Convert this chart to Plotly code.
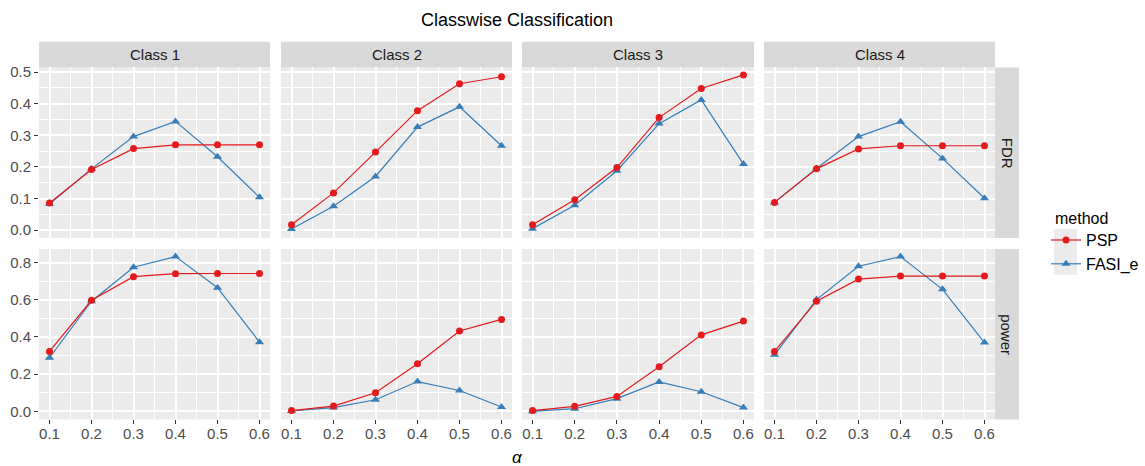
import plotly.graph_objects as go

W, H = 1145, 466

alpha = [0.1, 0.2, 0.3, 0.4, 0.5, 0.6]
classes = ["Class 1", "Class 2", "Class 3", "Class 4"]
metrics = ["FDR", "power"]
methods = ["PSP", "FASI_e"]

# FDR values
fdr_psp_c1 = [0.086, 0.192, 0.258, 0.270, 0.270, 0.270]
fdr_psp_c2 = [0.017, 0.118, 0.247, 0.378, 0.463, 0.485]
fdr_psp_c3 = [0.017, 0.096, 0.198, 0.356, 0.448, 0.491]
fdr_psp_c4 = [0.088, 0.194, 0.257, 0.267, 0.267, 0.267]
fdr_fasi_c1 = [0.083, 0.194, 0.296, 0.344, 0.232, 0.104]
fdr_fasi_c2 = [0.004, 0.076, 0.170, 0.326, 0.390, 0.267]
fdr_fasi_c3 = [0.005, 0.079, 0.188, 0.337, 0.412, 0.209]
fdr_fasi_c4 = [0.088, 0.195, 0.296, 0.343, 0.227, 0.101]

# power values
pow_psp_c1 = [0.322, 0.597, 0.724, 0.740, 0.741, 0.741]
pow_psp_c2 = [0.004, 0.028, 0.100, 0.256, 0.432, 0.494]
pow_psp_c3 = [0.004, 0.027, 0.080, 0.240, 0.411, 0.485]
pow_psp_c4 = [0.322, 0.592, 0.711, 0.727, 0.727, 0.727]
pow_fasi_c1 = [0.288, 0.592, 0.775, 0.832, 0.665, 0.372]
pow_fasi_c2 = [0.002, 0.020, 0.062, 0.160, 0.112, 0.023]
pow_fasi_c3 = [0.000, 0.014, 0.068, 0.158, 0.105, 0.020]
pow_fasi_c4 = [0.304, 0.601, 0.780, 0.832, 0.656, 0.370]

x_ticks = [0.1, 0.2, 0.3, 0.4, 0.5, 0.6]
fdr_ticks = [0.0, 0.1, 0.2, 0.3, 0.4, 0.5]
pow_ticks = [0.0, 0.2, 0.4, 0.6, 0.8]

psp = {("FDR", 0): fdr_psp_c1, ("FDR", 1): fdr_psp_c2, ("FDR", 2): fdr_psp_c3, ("FDR", 3): fdr_psp_c4,
       ("power", 0): pow_psp_c1, ("power", 1): pow_psp_c2, ("power", 2): pow_psp_c3, ("power", 3): pow_psp_c4}
fasi = {("FDR", 0): fdr_fasi_c1, ("FDR", 1): fdr_fasi_c2, ("FDR", 2): fdr_fasi_c3, ("FDR", 3): fdr_fasi_c4,
        ("power", 0): pow_fasi_c1, ("power", 1): pow_fasi_c2, ("power", 2): pow_fasi_c3, ("power", 3): pow_fasi_c4}

RED = "#E41A1C"
BLUE = "#377EB8"
FONT = "Liberation Sans, Arial, Helvetica, sans-serif"

col_px = [(39, 270), (281, 512), (522, 754), (764, 995)]
row_px = [(64, 236), (247, 419)]
strip_top = 38
rstrip = (995, 1019)


def px_x(p):
    return p / W


def px_y(p):
    return 1 - p / H


fig = go.Figure()
layout = {}

y_ranges = {"FDR": [-0.0245, 0.5145], "power": [-0.0435, 0.8735]}
y_ticks = {"FDR": fdr_ticks, "power": pow_ticks}
y_minor = {"FDR": 0.05, "power": 0.1}

idx = 0
for r, metric in enumerate(metrics):
    for c in range(4):
        idx += 1
        xa = "x" if idx == 1 else f"x{idx}"
        ya = "y" if idx == 1 else f"y{idx}"
        xkey = "xaxis" if idx == 1 else f"xaxis{idx}"
        ykey = "yaxis" if idx == 1 else f"yaxis{idx}"
        show_leg = (idx == 1)
        fig.add_trace(go.Scatter(
            x=alpha, y=fasi[(metric, c)], mode="lines+markers", name="FASI_e",
            line=dict(color=BLUE, width=1.2),
            marker=dict(symbol="triangle-up", size=8, color=BLUE),
            xaxis=xa, yaxis=ya, showlegend=show_leg, legendrank=2, legendgroup="FASI_e"))
        fig.add_trace(go.Scatter(
            x=alpha, y=psp[(metric, c)], mode="lines+markers", name="PSP",
            line=dict(color=RED, width=1.2),
            marker=dict(symbol="circle", size=7, color=RED),
            xaxis=xa, yaxis=ya, showlegend=show_leg, legendrank=1, legendgroup="PSP"))
        x0, x1 = col_px[c]
        y0, y1 = row_px[r]
        layout[xkey] = dict(
            domain=[px_x(x0), px_x(x1)], range=[0.075, 0.625], anchor=ya,
            tickvals=x_ticks, ticktext=[f"{v:.1f}" for v in x_ticks],
            showticklabels=(r == 1), ticks="outside" if r == 1 else "",
            ticklen=4, tickwidth=1, tickcolor="#333333", ticklabelstandoff=-3,
            tickfont=dict(family=FONT, size=15, color="#4D4D4D"),
            showgrid=True, gridcolor="white", gridwidth=1.5,
            minor=dict(tickvals=[0.15, 0.25, 0.35, 0.45, 0.55], showgrid=True,
                       gridcolor="white", gridwidth=0.7, ticks=""),
            zeroline=False, showline=False, fixedrange=True)
        yt = y_ticks[metric]
        mv = [round(v + y_minor[metric], 3) for v in yt[:-1]]
        layout[ykey] = dict(
            domain=[px_y(y1), px_y(y0)], range=y_ranges[metric], anchor=xa,
            tickvals=yt, ticktext=[f"{v:.1f}" for v in yt],
            showticklabels=(c == 0), ticks="outside" if c == 0 else "",
            ticklen=4, tickwidth=1, tickcolor="#333333",
            tickfont=dict(family=FONT, size=15, color="#4D4D4D"),
            showgrid=True, gridcolor="white", gridwidth=1.5,
            minor=dict(tickvals=mv, showgrid=True, gridcolor="white", gridwidth=0.7, ticks=""),
            zeroline=False, showline=False, fixedrange=True)

shapes = []
annotations = []
# panel backgrounds
for r in range(2):
    for c in range(4):
        x0, x1 = col_px[c]
        y0, y1 = row_px[r]
        shapes.append(dict(type="rect", xref="paper", yref="paper", layer="below",
                           x0=px_x(x0), x1=px_x(x1), y0=px_y(y1), y1=px_y(y0),
                           fillcolor="#EBEBEB", line=dict(width=0)))
# column strips
for c in range(4):
    x0, x1 = col_px[c]
    shapes.append(dict(type="rect", xref="paper", yref="paper", layer="below",
                       x0=px_x(x0), x1=px_x(x1), y0=px_y(row_px[0][0]), y1=px_y(strip_top),
                       fillcolor="#D9D9D9", line=dict(width=0)))
    annotations.append(dict(text=classes[c], xref="paper", yref="paper",
                            x=px_x((x0 + x1) / 2), y=px_y((strip_top + row_px[0][0]) / 2),
                            showarrow=False, xanchor="center", yanchor="middle",
                            font=dict(family=FONT, size=15, color="#1A1A1A")))
# row strips
for r in range(2):
    y0, y1 = row_px[r]
    shapes.append(dict(type="rect", xref="paper", yref="paper", layer="below",
                       x0=px_x(rstrip[0]), x1=px_x(rstrip[1]), y0=px_y(y1), y1=px_y(y0),
                       fillcolor="#D9D9D9", line=dict(width=0)))
    annotations.append(dict(text=metrics[r], xref="paper", yref="paper", textangle=90,
                            x=px_x((rstrip[0] + rstrip[1]) / 2), y=px_y((y0 + y1) / 2),
                            showarrow=False, xanchor="center", yanchor="middle",
                            font=dict(family=FONT, size=15, color="#1A1A1A")))
# legend key backgrounds
for ky in [(227, 250), (250, 273)]:
    shapes.append(dict(type="rect", xref="paper", yref="paper", layer="below",
                       x0=px_x(1054), x1=px_x(1077), y0=px_y(ky[1]), y1=px_y(ky[0]),
                       fillcolor="#EBEBEB", line=dict(width=0)))

# legend title, plot title and axis title
annotations.append(dict(text="method", xref="paper", yref="paper",
                        x=px_x(1053), y=px_y(216), showarrow=False, xanchor="left", yanchor="middle",
                        font=dict(family=FONT, size=16, color="black")))
annotations.append(dict(text="Classwise Classification", xref="paper", yref="paper",
                        x=px_x(517), y=px_y(16), showarrow=False, xanchor="center", yanchor="middle",
                        font=dict(family=FONT, size=18, color="black")))
annotations.append(dict(text="<i>α</i>", xref="paper", yref="paper",
                        x=px_x(517), y=px_y(457), showarrow=False, xanchor="center", yanchor="middle",
                        font=dict(family=FONT, size=17, color="black")))

fig.update_layout(
    width=W, height=H, margin=dict(l=0, r=0, t=0, b=0),
    paper_bgcolor="white", plot_bgcolor="rgba(0,0,0,0)",
    shapes=shapes, annotations=annotations,
    showlegend=True,
    legend=dict(font=dict(family=FONT, size=16, color="black"),
                x=px_x(1046), y=px_y(221), xanchor="left", yanchor="top",
                bgcolor="rgba(0,0,0,0)", itemwidth=30, tracegroupgap=0),
    **layout)

fig.write_html("out.html", config={"displayModeBar": False},
               post_script="document.body.style.margin='0';document.body.style.overflow='hidden';")
